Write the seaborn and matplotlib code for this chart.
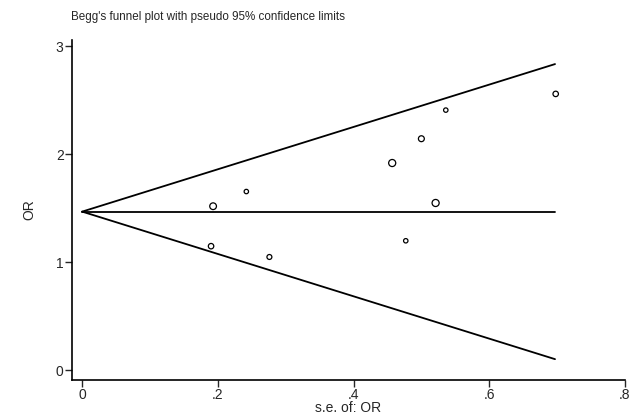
import matplotlib
matplotlib.use('Agg')
import matplotlib.pyplot as plt
import seaborn as sns
import numpy as np
import pandas as pd

# study points
se_or = [0.193, 0.190, 0.242, 0.276, 0.457, 0.477, 0.500, 0.521, 0.536, 0.698]
or_val = [1.52, 1.15, 1.656, 1.05, 1.92, 1.20, 2.145, 1.55, 2.41, 2.56]
pt_size = [22, 16, 12, 14, 24, 12, 18, 24, 12, 16]

# pooled estimate and pseudo 95% limits
pooled = 1.47
se_max = 0.697
lim_se = [0.0, se_max]

sns.set_style('white')
plt.rcParams['font.family'] = ['Liberation Sans', 'DejaVu Sans']

df = pd.DataFrame({'se': se_or, 'OR': or_val, 'sz': pt_size})
lim = pd.DataFrame({'se': lim_se})
lim['mid'] = pooled
lim['up'] = pooled + 1.96 * lim['se']
lim['lo'] = pooled - 1.96 * lim['se']

fig = plt.figure(figsize=(6.37, 4.2), dpi=100)
ax = fig.add_axes([0.113, 0.095, 0.868, 0.81])

for col in ['mid', 'up', 'lo']:
    sns.lineplot(data=lim, x='se', y=col, color='black', linewidth=1.3, ax=ax)

sns.scatterplot(data=df, x='se', y='OR', size='sz', sizes=(10, 26), legend=False,
                facecolor='none', edgecolor='black', linewidth=0.9, ax=ax)

ax.set_xlim(-0.015, 0.8)
ax.set_ylim(-0.09, 3.06)
ax.set_xticks([0, 0.2, 0.4, 0.6, 0.8])
ax.set_xticklabels(['0', '.2', '.4', '.6', '.8'])
ax.set_yticks([0, 1, 2, 3])
ax.set_yticklabels(['0', '1', '2', '3'])
ax.tick_params(direction='out', length=5, width=1, labelsize=10, left=True, bottom=True, pad=1)
for s in ['top', 'right']:
    ax.spines[s].set_visible(False)
for s in ['left', 'bottom']:
    ax.spines[s].set_linewidth(1.2)
    ax.spines[s].set_color('black')

ax.set_xlabel('s.e. of: OR', fontsize=10, labelpad=-1)
ax.set_ylabel('OR', fontsize=10, labelpad=14)
fig.text(0.112, 0.952, "Begg's funnel plot with pseudo 95% confidence limits", fontsize=8.4, ha='left')

fig.savefig('out.png', dpi=100)
